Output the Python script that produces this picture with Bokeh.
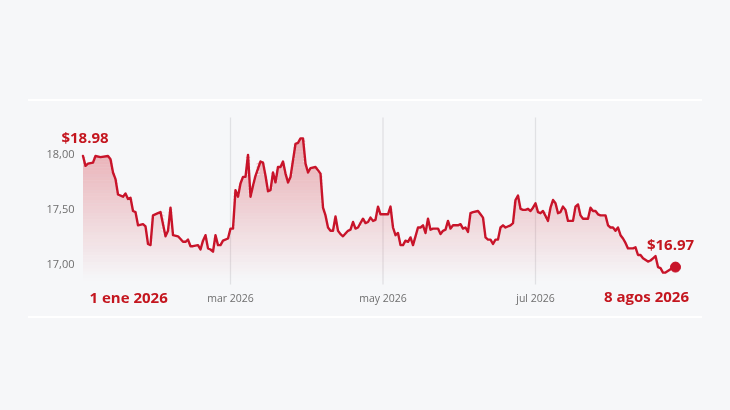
import numpy as np
import pandas as pd
from bokeh.plotting import figure
from bokeh.models import (ColumnDataSource, Range1d, FixedTicker,
                          CustomJSTickFormatter, Label, Div)
from bokeh.layouts import column
from bokeh.embed import file_html
from bokeh.resources import INLINE

# ---------------- data ----------------
START_DATE = "2026-01-01"
DAY_OFFSETS = [
    0, 1, 2, 4, 5, 7, 10, 11, 12, 13, 14, 16, 17, 18, 19, 20, 21, 22, 24, 25,
    26, 27, 28, 30, 31, 33, 34, 35, 36, 38, 40, 41, 42, 43, 44, 46, 47, 48, 49, 50,
    51, 52, 53, 54, 55, 56, 58, 59, 60, 61, 62, 63, 64, 65, 66, 67, 68, 69, 71, 72,
    73, 74, 75, 76, 77, 78, 79, 80, 81, 82, 83, 84, 85, 86, 87, 88, 89, 90, 91, 93,
    95, 96, 97, 98, 99, 100, 101, 102, 103, 104, 106, 107, 108, 109, 110, 112, 113, 114, 115, 116,
    117, 118, 119, 120, 122, 123, 124, 125, 126, 127, 128, 129, 130, 131, 132, 133, 134, 135, 136, 137,
    138, 139, 140, 142, 143, 144, 145, 146, 147, 148, 150, 151, 152, 153, 154, 155, 156, 158, 159, 160,
    161, 162, 163, 164, 165, 166, 167, 168, 169, 171, 172, 173, 174, 175, 176, 177, 178, 179, 180, 181,
    182, 183, 184, 186, 187, 188, 189, 190, 191, 192, 193, 194, 196, 197, 198, 199, 200, 202, 203, 204,
    205, 206, 207, 209, 210, 211, 212, 213, 214, 215, 216, 217, 218, 219, 220, 221, 222, 223, 224, 226,
    227, 228, 229, 230, 231, 232, 233, 235, 236, 237,
]
PRICES = [
    17.98, 17.89, 17.91, 17.92, 17.98, 17.97, 17.98, 17.95, 17.83, 17.77, 17.63, 17.61, 17.64, 17.59, 17.60, 17.48, 17.47, 17.35, 17.36, 17.34,
    17.18, 17.17, 17.44, 17.46, 17.47, 17.25, 17.30, 17.51, 17.26, 17.25, 17.20, 17.20, 17.22, 17.16, 17.16, 17.17, 17.13, 17.21, 17.26, 17.14,
    17.13, 17.11, 17.26, 17.17, 17.17, 17.21, 17.23, 17.32, 17.32, 17.67, 17.61, 17.73, 17.79, 17.79, 17.99, 17.61, 17.71, 17.80, 17.93, 17.92,
    17.80, 17.66, 17.67, 17.83, 17.74, 17.88, 17.88, 17.93, 17.82, 17.74, 17.79, 17.94, 18.09, 18.10, 18.14, 18.14, 17.91, 17.83, 17.87, 17.88,
    17.82, 17.51, 17.44, 17.33, 17.30, 17.30, 17.43, 17.30, 17.27, 17.25, 17.30, 17.31, 17.38, 17.32, 17.33, 17.41, 17.37, 17.38, 17.42, 17.39,
    17.40, 17.52, 17.45, 17.45, 17.45, 17.52, 17.33, 17.26, 17.28, 17.17, 17.17, 17.21, 17.20, 17.24, 17.17, 17.25, 17.33, 17.33, 17.35, 17.28,
    17.41, 17.31, 17.32, 17.32, 17.27, 17.30, 17.31, 17.39, 17.32, 17.35, 17.35, 17.36, 17.32, 17.33, 17.29, 17.46, 17.47, 17.48, 17.45, 17.42,
    17.24, 17.22, 17.22, 17.18, 17.22, 17.22, 17.33, 17.35, 17.33, 17.35, 17.37, 17.58, 17.62, 17.50, 17.49, 17.49, 17.50, 17.48, 17.51, 17.55,
    17.47, 17.46, 17.48, 17.39, 17.51, 17.58, 17.55, 17.46, 17.47, 17.52, 17.49, 17.39, 17.39, 17.52, 17.54, 17.44, 17.41, 17.41, 17.51, 17.48,
    17.48, 17.45, 17.44, 17.44, 17.35, 17.33, 17.33, 17.30, 17.33, 17.26, 17.23, 17.19, 17.14, 17.14, 17.14, 17.15, 17.08, 17.08, 17.05, 17.02,
    17.03, 17.05, 17.07, 16.97, 16.96, 16.92, 16.92, 16.95, 16.97, 16.97,
]
MONTH_TICKS = ["2026-03-01", "2026-05-01", "2026-07-01"]
MONTH_NAMES = ["ene", "feb", "mar", "abr", "may", "jun",
               "jul", "ago", "sep", "oct", "nov", "dic"]
PRICE_TICKS = [17.0, 17.5, 18.0]
PRICE_TICK_LABELS = ["17,00", "17,50", "18,00"]
START_PRICE_LABEL = "$18.98"
START_DATE_LABEL = "1 ene 2026"
END_PRICE_LABEL = "$16.97"
END_DATE_LABEL = "8 agos 2026"

# ---------------- styling ----------------
BG = "#f6f7f9"
RED_LINE = "#c8142a"
RED_TEXT = "#c4161f"
FILL = "#d43a46"
TICK_COLOR = "#6e6e6e"
GRID_COLOR = "#e0e1e4"
FONT = "Open Sans"

DAY_MS = 86400000.0
t0 = pd.Timestamp(START_DATE).value / 1e6
dates = t0 + np.array(DAY_OFFSETS, dtype=float) * DAY_MS
prices = np.array(PRICES, dtype=float)

# page geometry: the figure (and its frame) spans page x 0..714, y 101..316
FIG_W, FIG_H = 714, 215
FIG_TOP = 101.0
PX_DAY0, PX_PER_DAY = 82.5, 2.5           # x position of START_DATE, scale
PY_18, PX_PER_UNIT = 153.3, 110.0         # y position of value 18, scale


def day_at(px):
    return (px - PX_DAY0) / PX_PER_DAY


def val_at(py):
    return 18.0 - (py - PY_18) / PX_PER_UNIT


def px_to_x(px):
    return t0 + day_at(px) * DAY_MS


X_START, X_END = px_to_x(0.0), px_to_x(FIG_W)
Y_START, Y_END = val_at(FIG_TOP + FIG_H), val_at(FIG_TOP)

# the visible chart box (grid extent, axis positions)
BOX_L, BOX_T, BOX_B = 82.0, 117.0, 284.0

p = figure(width=FIG_W, height=FIG_H, x_axis_type="datetime",
           x_range=Range1d(X_START, X_END), y_range=Range1d(Y_START, Y_END),
           output_backend="svg", toolbar_location=None,
           min_border_left=0, min_border_right=0,
           min_border_top=0, min_border_bottom=0)
p.background_fill_color = BG
p.border_fill_color = BG
p.outline_line_color = None
p.xgrid.grid_line_color = None
p.ygrid.grid_line_color = None

# vertical month grid lines limited to the chart box
month_ms = [pd.Timestamp(d).value / 1e6 for d in MONTH_TICKS]
p.segment(x0=month_ms, y0=val_at(BOX_B), x1=month_ms, y1=val_at(BOX_T),
          line_color=GRID_COLOR, line_width=1.3)

# gradient-like area fill (stacked bands with decreasing opacity)
base = val_at(BOX_B)
levels = np.linspace(base, prices.max(), 46)
for lo, hi in zip(levels[:-1], levels[1:]):
    mid_py = PY_18 + (18.0 - 0.5 * (lo + hi)) * PX_PER_UNIT
    a = 0.40 * float(np.clip((280.0 - mid_py) / (280.0 - 138.0), 0, 1))
    if a <= 0:
        continue
    p.varea(x=dates, y1=lo, y2=np.clip(prices, lo, hi),
            fill_color=FILL, fill_alpha=a)

src = ColumnDataSource(dict(date=dates, price=prices))
p.line("date", "price", source=src, line_color=RED_LINE, line_width=2.4,
       line_join="round", line_cap="round")
p.scatter(x=[dates[-1]], y=[prices[-1]], size=10, color=RED_LINE)

# axes, pinned to the chart box edges
p.xaxis.ticker = FixedTicker(ticks=month_ms)
p.xaxis.formatter = CustomJSTickFormatter(
    args=dict(names=MONTH_NAMES),
    code="const d = new Date(tick); return names[d.getUTCMonth()] + ' ' + d.getUTCFullYear();")
p.yaxis.ticker = FixedTicker(ticks=PRICE_TICKS)
p.yaxis.formatter = CustomJSTickFormatter(
    args=dict(pticks=PRICE_TICKS, plabels=PRICE_TICK_LABELS),
    code="for (let i = 0; i < pticks.length; i++) { if (Math.abs(pticks[i] - tick) < 1e-9) return plabels[i]; } return tick.toFixed(2).replace('.', ',');")
for ax in (p.xaxis[0], p.yaxis[0]):
    ax.axis_line_color = None
    ax.major_tick_line_color = None
    ax.minor_tick_line_color = None
    ax.major_tick_in = 0
    ax.major_tick_out = 0
    ax.major_label_text_font = FONT
    ax.major_label_text_color = TICK_COLOR
p.xaxis.fixed_location = val_at(BOX_B)
p.yaxis.fixed_location = px_to_x(BOX_L)
p.xaxis.major_label_text_font_size = "10.5px"
p.yaxis.major_label_text_font_size = "11px"
p.xaxis.major_label_standoff = 6
p.yaxis.major_label_standoff = 8

# annotation labels
lab_kw = dict(x_units="data", y_units="data", text_font=FONT,
              text_font_style="bold", text_font_size="15px",
              text_color=RED_TEXT, text_baseline="middle")
p.add_layout(Label(x=px_to_x(84.5), y=val_at(136.5), text=START_PRICE_LABEL,
                   text_align="center", **lab_kw))
p.add_layout(Label(x=px_to_x(89.0), y=val_at(296.0), text=START_DATE_LABEL,
                   text_align="left", **lab_kw))
p.add_layout(Label(x=px_to_x(670.0), y=val_at(243.5), text=END_PRICE_LABEL,
                   text_align="center", **lab_kw))
p.add_layout(Label(x=px_to_x(688.5), y=val_at(295.5), text=END_DATE_LABEL,
                   text_align="right", **lab_kw))

# page frame: top spacer, white rules above and below the chart
spacer = Div(text="", width=FIG_W, height=99, margin=0)
rule_top = Div(text="", width=674, height=2, margin=(0, 0, 0, 28),
               styles={"background-color": "white"})
rule_bot = Div(text="", width=674, height=2, margin=(0, 0, 0, 28),
               styles={"background-color": "white"})
page_bg = Div(text="", width=0, height=0, margin=0,
              styles={"position": "fixed", "left": "0", "top": "0",
                      "width": "100vw", "height": "100vh",
                      "background-color": BG, "z-index": "-1"})
layout = column(spacer, rule_top, p, rule_bot, page_bg, spacing=0)

open("out.html", "w").write(file_html(layout, INLINE))
